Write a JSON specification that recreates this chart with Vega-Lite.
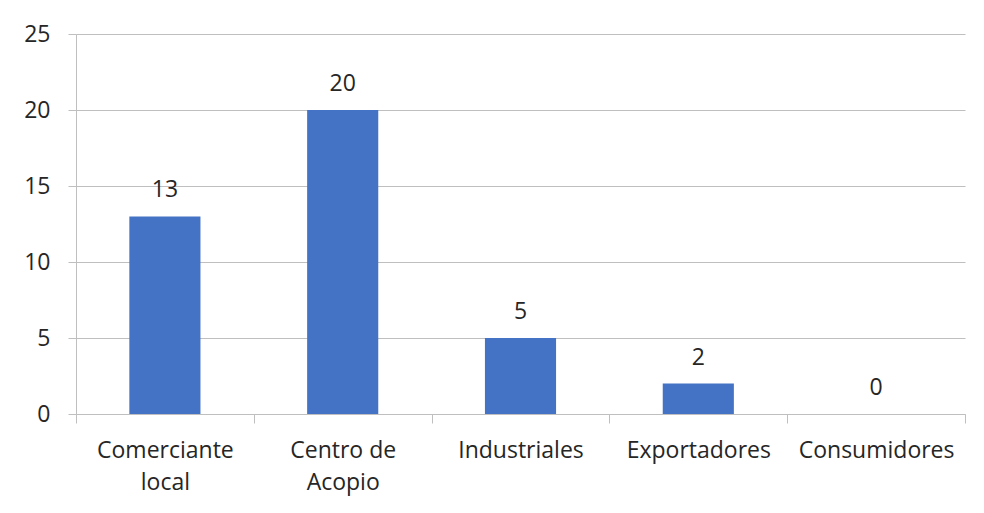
{
  "$schema": "https://vega.github.io/schema/vega-lite/v6.json",
  "width": 889,
  "height": 380,
  "autosize": {"type": "none"},
  "padding": {"left": 76, "top": 34, "right": 19, "bottom": 99},
  "background": "white",
  "data": {
    "values": [
      {"categoria": "Comerciante local", "valor": 13},
      {"categoria": "Centro de Acopio", "valor": 20},
      {"categoria": "Industriales", "valor": 5},
      {"categoria": "Exportadores", "valor": 2},
      {"categoria": "Consumidores", "valor": 0}
    ]
  },
  "encoding": {
    "x": {
      "field": "categoria",
      "type": "nominal",
      "sort": null,
      "scale": {"paddingInner": 0, "paddingOuter": 0},
      "axis": {
        "title": null,
        "labelAngle": 0,
        "labelFont": "Open Sans",
        "labelFontSize": 23,
        "labelColor": "#262626",
        "labelPadding": 16,
        "labelLineHeight": 32,
        "labelExpr": "datum.value == 'Comerciante local' ? ['Comerciante', 'local'] : datum.value == 'Centro de Acopio' ? ['Centro de', 'Acopio'] : datum.value",
        "tickBand": "extent",
        "tickSize": 9,
        "tickColor": "#bfbfbf",
        "domainColor": "#bfbfbf",
        "grid": false
      }
    },
    "y": {
      "field": "valor",
      "type": "quantitative",
      "scale": {"domain": [0, 25]},
      "axis": {
        "title": null,
        "values": [0, 5, 10, 15, 20, 25],
        "labelFont": "Open Sans",
        "labelFontSize": 23,
        "labelColor": "#262626",
        "labelPadding": 18,
        "tickSize": 8,
        "tickColor": "#bfbfbf",
        "domainColor": "#bfbfbf",
        "gridColor": "#bfbfbf",
        "grid": true
      }
    }
  },
  "layer": [
    {"mark": {"type": "bar", "color": "#4472C4", "width": {"band": 0.4}}},
    {
      "mark": {"type": "text", "baseline": "bottom", "dy": -14, "font": "Open Sans", "fontSize": 23, "color": "#262626"},
      "encoding": {"text": {"field": "valor", "type": "quantitative"}}
    }
  ],
  "config": {"view": {"stroke": null}}
}
